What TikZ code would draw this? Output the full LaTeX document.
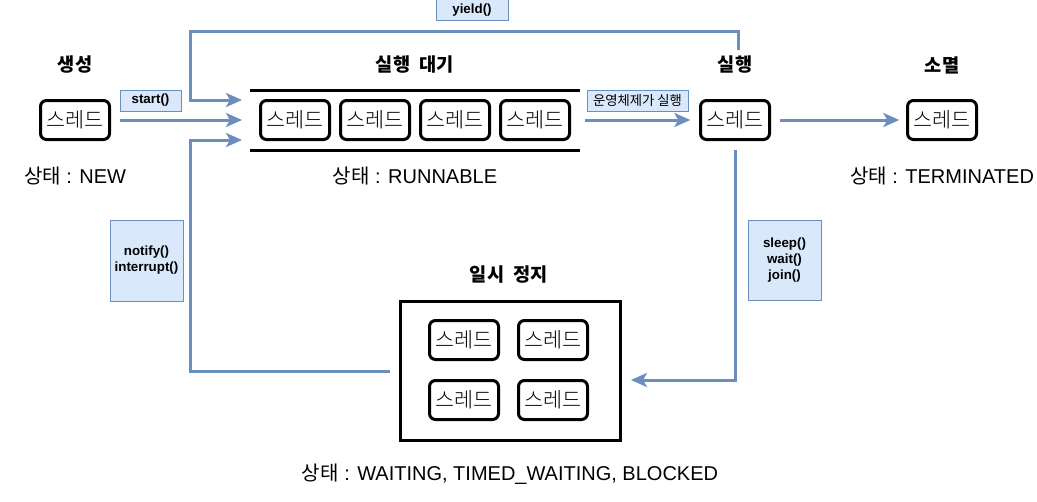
\documentclass[tikz,border=0pt]{standalone}
\usepackage{fontspec}
\setmainfont{Liberation Sans}
\newfontfamily\kr{Noto Sans CJK KR}
\newfontfamily\krlight{Noto Sans CJK KR Light}
\usetikzlibrary{arrows.meta}
\definecolor{callfill}{HTML}{DAE8FC}
\definecolor{callline}{HTML}{6C8EBF}

\begin{document}
\begin{tikzpicture}[
    x=0.75pt, y=-0.75pt,
    thread/.style={rectangle, draw, line width=2.25pt, rounded corners=4.5pt,
                   minimum width=51.75pt, minimum height=29.25pt, inner sep=0pt,
                   font=\krlight\fontsize{15.5}{18}\selectfont},
    title/.style={font=\kr\bfseries\fontsize{14}{17}\selectfont},
    state/.style={font=\fontsize{15}{18}\selectfont},
    call/.style={rectangle, draw=callline, fill=callfill, inner sep=0pt, align=center,
                 font=\bfseries\fontsize{10}{12}\selectfont},
    arrow/.style={-{Stealth[length=12pt, width=10.5pt, inset=3pt]}, line width=2.25pt, callline}
]
\useasboundingbox (0,0) rectangle (1037,501);

% titles and states
\node[title] (newT)   at (75,65)  {생성};
\node[title] (readyT) at (415,65) {실행\hspace{0.5em}대기};
\node[title] (runT)   at (735,65) {실행};
\node[title] (deadT)  at (942,65) {소멸};
\node[title] (waitT)  at (509,275) {일시\hspace{0.5em}정지};

\node[state] (newS)   at (75,176)  {{\kr 상태} : NEW};
\node[state] (readyS) at (415,176) {{\kr 상태} : RUNNABLE};
\node[state] (deadS)  at (942,176) {{\kr 상태} : TERMINATED};
\node[state] (waitS)  at (510,474) {{\kr 상태} : WAITING, TIMED\_WAITING, BLOCKED};

% threads
\node[thread] (t0) at (75,120)  {스레드};
\node[thread] (t5) at (735,120) {스레드};
\node[thread] (t6) at (942,120) {스레드};

\node[minimum width=247.5pt, minimum height=45pt, outer sep=0pt] (runq) at (415,120) {};
\draw[line width=2.25pt] (runq.north west) -- (runq.north east);
\draw[line width=2.25pt] (runq.south west) -- (runq.south east);
\foreach \i/\x in {1/295, 2/375, 3/455, 4/535}
    \node[thread] (q\i) at (\x,120) {스레드};

\node[rectangle, draw, line width=2.25pt, minimum width=165pt, minimum height=104pt] (pause) at (510,371) {};
\foreach \i/\x/\y in {1/464/340, 2/553/340, 3/464/400, 4/553/400}
    \node[thread] (p\i) at (\x,\y) {스레드};

% labels
\node[call, minimum width=45.75pt, minimum height=15.75pt] (startL) at (150.5,100.5) {start()};
\node[call, minimum width=54pt, minimum height=15.75pt] (yieldL) at (472,10) {yield()};
\node[call, minimum width=75.75pt, minimum height=15.75pt, font=\kr\fontsize{10}{12}\selectfont] (osL) at (637.5,100.5) {운영체제가 실행};
\node[call, minimum width=54.75pt, minimum height=60.75pt] (notifyL) at (146.5,260.5) {notify()\\interrupt()};
\node[call, minimum width=54.75pt, minimum height=60pt] (sleepL) at (784.5,260) {sleep()\\wait()\\join()};

% connectors
\coordinate (qtop) at (242,100);
\coordinate (qmid) at (242,120);
\coordinate (qbot) at (242,140);
\coordinate (ystart) at (738,50);
\coordinate (ytop) at (190,31);
\coordinate (lbot) at (190,140);
\coordinate (pin) at (631,380);

\draw[arrow, shorten <=6.5pt] (t0.east) -- (qmid);
\draw[arrow] (ystart) |- (ytop) |- (qtop);
\draw[arrow, shorten <=6.5pt] (pause.west) -| (lbot) -- (qbot);
\draw[arrow, shorten <=3.75pt, shorten >=6.5pt] (runq.east) -- (t5.west);
\draw[arrow, shorten <=6.5pt, shorten >=5pt] (t5.east) -- (t6.west);
\draw[arrow, shorten <=6.5pt] (t5.south) |- (pin);
\end{tikzpicture}
\end{document}
